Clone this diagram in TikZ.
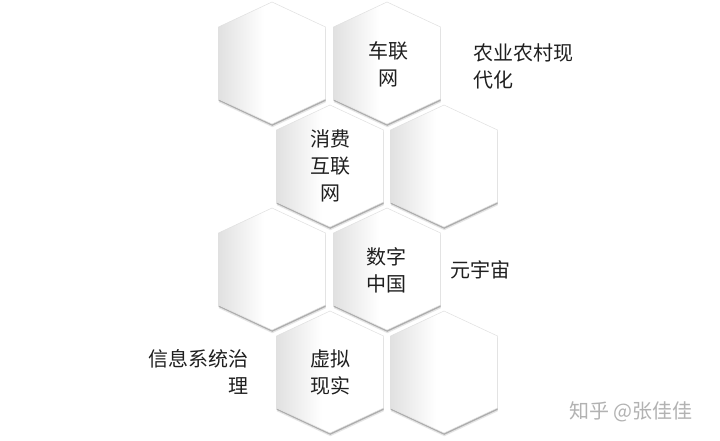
\documentclass[tikz,border=0pt]{standalone}
\usepackage{fontspec}
\newfontfamily\cjk{Noto Sans CJK SC}
\tikzset{
  hexedge/.style={draw=black!12, line width=0.5pt},
  shadowfar/.style={fill=black!10},
  shadownear/.style={fill=black!32},
  lbl/.style={inner sep=0pt, font=\cjk\fontsize{20}{27}\selectfont, text=black!88},
  wm/.style={inner sep=0pt, font=\cjk\fontsize{20}{24}\selectfont, text=black!30}
}
% hexagon outline centred at (#1,#2); y grows downwards
\newcommand\hexp[2]{({#1-53.5},{#2-36}) -- ({#1},{#2-61}) -- ({#1+53.5},{#2-36}) -- ({#1+53.5},{#2+36}) -- ({#1},{#2+61}) -- ({#1-53.5},{#2+36}) -- cycle}
\newcommand\hexcell[2]{%
  \path[shadowfar] \hexp{#1+0.3}{#2+3.2};
  \path[shadownear] \hexp{#1+0.2}{#2+1.8};
  \fill[white] \hexp{#1}{#2};
  \begin{scope}
    \clip \hexp{#1}{#2};
    \shade[left color=black!12, right color=white] ({#1-54},{#2-62}) rectangle ({#1-8},{#2+62});
  \end{scope}
  \path[hexedge] \hexp{#1}{#2};}
\begin{document}
\begin{tikzpicture}[x=1pt,y=-1pt]
\useasboundingbox (0,0) rectangle (720,440);
\fill[white] (0,0) rectangle (720,440);
% hexagons
\hexcell{272}{63}
\hexcell{387}{63}
\hexcell{330}{166}
\hexcell{444}{166}
\hexcell{272}{269}
\hexcell{387}{269}
\hexcell{330}{372}
\hexcell{444}{372}
% labels inside
\node[lbl, align=center] (cheliang) at (388,64) {车联\\网};
\node[lbl, align=center] (xiaofei) at (330,166) {消费\\互联\\网};
\node[lbl, align=center] (shuzi) at (386,270) {数字\\中国};
\node[lbl, align=center] (xuni) at (330,372) {虚拟\\现实};
% labels outside
\node[lbl, align=left, anchor=west] (nongye) at (473,66.5) {农业农村现\\代化};
\node[lbl, anchor=west] (yuan) at (450,270) {元宇宙};
\node[lbl, align=right, anchor=east] (xinxi) at (249,371.5) {信息系统治\\理};
% watermark
\node[wm, anchor=west] (mark) at (569,412) {知乎 @张佳佳};
\end{tikzpicture}
\end{document}
